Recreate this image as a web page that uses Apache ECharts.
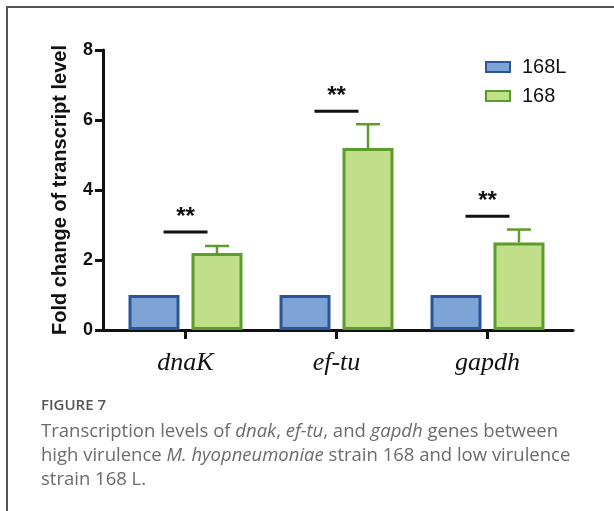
<!DOCTYPE html>
<html>
<head>
<meta charset="utf-8">
<script src="https://cdn.jsdelivr.net/npm/echarts@6/dist/echarts.min.js"></script>
<style>
  html, body { margin: 0; padding: 0; background: #fff; }
  #chart { width: 614px; height: 511px; }
</style>
</head>
<body>
<div id="chart"></div>
<script>
// genes on the x axis
const categories = ['dnaK', 'ef-tu', 'gapdh']
const seriesNames = ['168L', '168']
// fold change, low virulence strain (reference)
const lowValues = [1, 1, 1]
// fold change, high virulence strain
const highValues = [2.2, 5.2, 2.5]
// top of the error bars on the 168 bars
const highUpper = [2.4, 5.88, 2.87]
// height of the significance lines and their labels
const sigLevels = [2.8, 6.25, 3.25]
const sigLabels = ['**', '**', '**']
// y axis ticks
const yMin = 0
const yMax = 8
const yStep = 2

const blue = '#7ea3d6'
const blueBorder = '#2b5597'
const green = '#c0df88'
const greenBorder = '#5c9c2b'
const barW = 51
const barGapPct = 23.5
// distance of the 168 bar centre from the category centre
const greenOffset = (barW + barW * barGapPct / 100) / 2

const chart = echarts.init(document.getElementById('chart'))

const option = {
  animation: false,
  grid: [
    // bars
    { left: 110, right: 51, top: 50, bottom: 181 },
    // visible axes
    { left: 103, right: 41, top: 50, bottom: 181 }
  ],
  legend: {
    orient: 'vertical',
    left: 480,
    top: 52,
    icon: 'rect',
    itemWidth: 24,
    itemHeight: 10,
    itemGap: 9,
    data: seriesNames,
    textStyle: {
      fontFamily: 'Liberation Sans',
      fontSize: 20,
      color: '#111',
      padding: [0, 0, 0, 7]
    }
  },
  xAxis: [
    {
      gridIndex: 0,
      type: 'category',
      data: categories,
      axisLine: { show: false },
      axisTick: { show: true, alignWithLabel: true, length: 9, lineStyle: { width: 3, color: '#111' } },
      axisLabel: {
        margin: 20,
        fontFamily: 'Liberation Serif',
        fontStyle: 'italic',
        fontSize: 26,
        color: '#111'
      }
    },
    {
      gridIndex: 1,
      type: 'value',
      min: 0,
      max: 1,
      axisLine: { show: true, onZero: false, lineStyle: { width: 3, color: '#111' } },
      axisTick: { show: false },
      axisLabel: { show: false },
      splitLine: { show: false }
    }
  ],
  yAxis: [
    {
      gridIndex: 0,
      type: 'value',
      min: yMin,
      max: yMax,
      interval: yStep,
      show: false
    },
    {
      gridIndex: 1,
      type: 'value',
      min: yMin,
      max: yMax,
      interval: yStep,
      name: 'Fold change of transcript level',
      nameLocation: 'middle',
      nameGap: 33,
      nameTextStyle: {
        fontFamily: 'Liberation Sans',
        fontWeight: 'bold',
        fontSize: 20,
        color: '#111'
      },
      axisLine: { show: true, lineStyle: { width: 3, color: '#111' } },
      axisTick: { show: true, length: 8, lineStyle: { width: 3, color: '#111' } },
      axisLabel: {
        margin: 10,
        fontFamily: 'Liberation Sans',
        fontWeight: 'bold',
        fontSize: 18,
        color: '#111'
      },
      splitLine: { show: false }
    }
  ],
  series: [
    {
      name: seriesNames[0],
      type: 'bar',
      xAxisIndex: 0,
      yAxisIndex: 0,
      data: lowValues,
      barWidth: barW,
      barGap: barGapPct + '%',
      itemStyle: { color: blue, borderColor: blueBorder, borderWidth: 3 }
    },
    {
      name: seriesNames[1],
      type: 'bar',
      xAxisIndex: 0,
      yAxisIndex: 0,
      data: highValues,
      barWidth: barW,
      barGap: barGapPct + '%',
      itemStyle: { color: green, borderColor: greenBorder, borderWidth: 3 }
    },
    {
      // error bars on 168
      type: 'custom',
      xAxisIndex: 0,
      yAxisIndex: 0,
      z: 5,
      data: categories.map((c, i) => [i, highUpper[i], highValues[i]]),
      renderItem: function (params, api) {
        const top = api.coord([api.value(0), api.value(1)])
        const base = api.coord([api.value(0), api.value(2)])
        const x = top[0] + greenOffset
        const style = { stroke: greenBorder, lineWidth: 2.5 }
        return {
          type: 'group',
          children: [
            { type: 'line', shape: { x1: x, y1: base[1], x2: x, y2: top[1] }, style: style },
            { type: 'line', shape: { x1: x - 12, y1: top[1], x2: x + 12, y2: top[1] }, style: style }
          ]
        }
      }
    },
    {
      // significance marks
      type: 'custom',
      xAxisIndex: 0,
      yAxisIndex: 0,
      z: 5,
      data: categories.map((c, i) => [i, sigLevels[i], sigLabels[i]]),
      renderItem: function (params, api) {
        const p = api.coord([api.value(0), api.value(1)])
        return {
          type: 'group',
          children: [
            {
              type: 'line',
              shape: { x1: p[0] - 22, y1: p[1], x2: p[0] + 22, y2: p[1] },
              style: { stroke: '#111', lineWidth: 3 }
            },
            {
              type: 'text',
              x: p[0],
              y: p[1] - 3,
              style: {
                text: sigLabels[params.dataIndex],
                fontFamily: 'Liberation Sans',
                fontWeight: 'bold',
                fontSize: 24,
                fill: '#111',
                align: 'center',
                verticalAlign: 'bottom'
              }
            }
          ]
        }
      }
    }
  ],
  graphic: [
    {
      type: 'polyline',
      shape: { points: [[7, 511], [7, 7], [614, 7]] },
      style: { stroke: '#555', lineWidth: 2, fill: null }
    },
    {
      type: 'text',
      left: 41,
      top: 398,
      style: {
        text: 'FIGURE 7',
        fontFamily: 'Open Sans',
        fontWeight: 600,
        fontSize: 15,
        fill: '#555'
      }
    },
    {
      type: 'text',
      left: 41,
      top: 422,
      style: {
        text: '{n|Transcription levels of }{i|dnak}{n|, }{i|ef-tu}{n|, and }{i|gapdh}{n| genes between}\n' +
          '{n|high virulence }{i|M. hyopneumoniae}{n| strain 168 and low virulence}\n' +
          '{n|strain 168 L.}',
        rich: {
          n: { fontFamily: 'Open Sans', fontSize: 18.5, fill: '#6b6b6b', lineHeight: 24 },
          i: { fontFamily: 'Open Sans', fontStyle: 'italic', fontSize: 18.5, fill: '#6b6b6b', lineHeight: 24 }
        }
      }
    }
  ]
}

chart.setOption(option)
</script>
</body>
</html>
